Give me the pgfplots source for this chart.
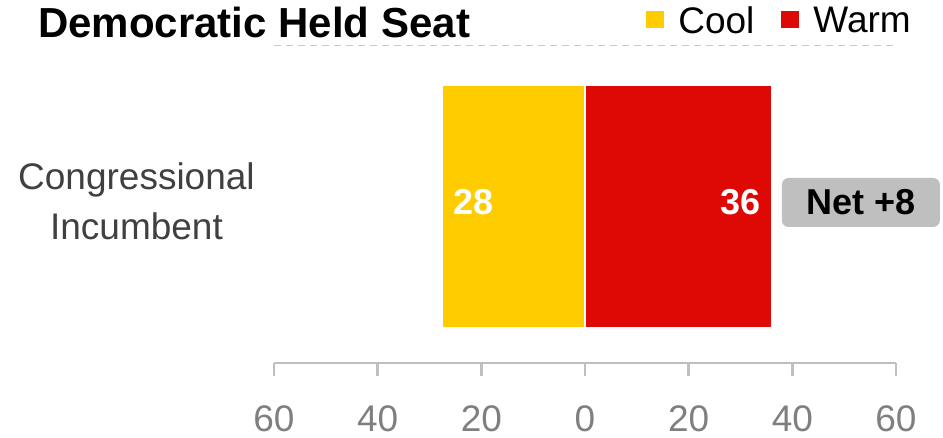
\documentclass[border=0pt]{standalone}
\usepackage{fontspec}
\setmainfont{Liberation Sans}
\usepackage{pgfplots}
\pgfplotsset{compat=1.18}
\definecolor{cool}{HTML}{FFCC00}
\definecolor{warm}{HTML}{DE0805}
\definecolor{netgray}{HTML}{BFBFBF}
\definecolor{axgray}{HTML}{BFBFBF}
\definecolor{dashgray}{HTML}{C8C8C8}
\definecolor{ticktext}{HTML}{7F7F7F}
\definecolor{cattext}{HTML}{404040}
\pgfplotsset{sq legend/.style={legend image code/.code={\fill[##1,draw=none] (0pt,-5.25pt) rectangle (13.5pt,7.5pt);}}}
\begin{document}
\begin{tikzpicture}
\path[use as bounding box] (-205.5pt,-56.25pt) rectangle (501.75pt,272.25pt);
\begin{axis}[
 at={(0pt,0pt)}, anchor=south west,
 scale only axis, width=466.5pt, height=237.75pt,
 xmin=-60, xmax=60, ymin=-156.5, ymax=160.5,
 axis x line*=bottom, axis y line*=left,
 x axis line style={draw=axgray, line width=2pt, -},
 y axis line style={draw=none},
 xtick={-60,-40,-20,0,20,40,60},
 xticklabels={60,40,20,0,20,40,60},
 tick align=outside,
 major tick length=9.75pt,
 xtick style={draw=axgray, line width=2pt},
 ytick style={draw=none},
 xticklabel style={text=ticktext, font=\fontsize{27.75}{33}\selectfont, inner sep=0pt, yshift=-21.75pt},
 ytick={0}, yticklabels={{Congressional\\Incumbent}},
 yticklabel style={text=cattext, font=\fontsize{27.75}{37.5}\selectfont, align=center, inner sep=0pt, xshift=-4.5pt, yshift=3.75pt},
 xbar, bar width=182.25pt, bar shift=0pt,
 clip=false,
 legend columns=2, legend cell align=left,
 legend style={draw=none, fill=none, at={(rel axis cs:1,1)}, anchor=north east, xshift=11.25pt, yshift=30pt, inner sep=0pt, font=\fontsize{27.75}{33}\selectfont, nodes={inner sep=0pt}, /tikz/every odd column/.append style={column sep=10.5pt}, /tikz/every even column/.append style={column sep=20.25pt}},
]
\addplot[fill=cool, draw=white, line width=1.5pt, sq legend] coordinates {(-27.6,0)};
\addlegendentry{Cool}
\addplot[fill=warm, draw=white, line width=1.5pt, sq legend] coordinates {(36,0)};
\addlegendentry{Warm}
\node[anchor=west, text=white, font=\bfseries\fontsize{27}{32}\selectfont, inner sep=0pt, xshift=8.25pt] at (axis cs:-27.6,4) {28};
\node[anchor=east, text=white, font=\bfseries\fontsize{27}{32}\selectfont, inner sep=0pt, xshift=-8.25pt] at (axis cs:36,4) {36};
\node[anchor=west, fill=netgray, rounded corners=5pt, minimum width=118.5pt, minimum height=36.75pt, inner sep=0pt, font=\bfseries\fontsize{27}{32}\selectfont, xshift=7.5pt] at (axis cs:36,4) {Net +8};
\draw[dashgray, line width=0.75pt, dash pattern=on 5pt off 4pt] (rel axis cs:0,1) -- (rel axis cs:1,1);
\node[anchor=base west, inner sep=0pt, font=\bfseries\fontsize{31.5}{36}\selectfont, xshift=-177pt, yshift=243.75pt] at (rel axis cs:0,0) {Democratic Held Seat};
\end{axis}
\end{tikzpicture}
\end{document}
